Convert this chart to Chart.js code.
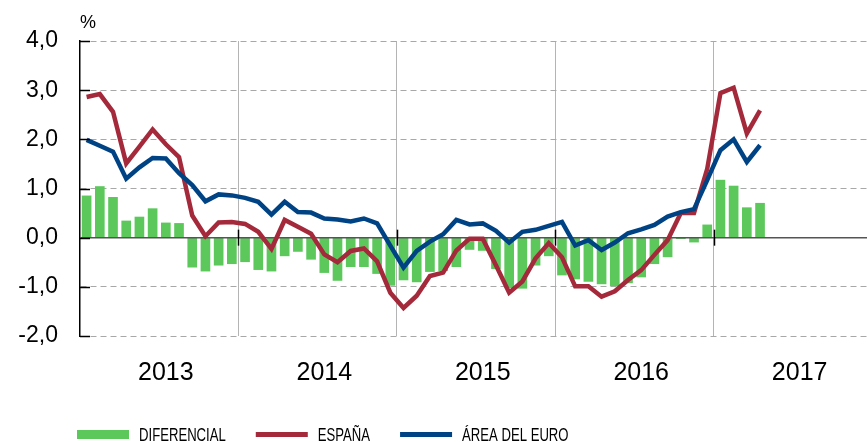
<!DOCTYPE html>
<html><head><meta charset="utf-8">
<script src="https://cdn.jsdelivr.net/npm/chart.js@4/dist/chart.umd.min.js"></script>
<style>html,body{margin:0;padding:0;background:#fff;overflow:hidden}#wrap{width:867px;height:442px;position:relative}</style>
</head><body><div id="wrap"><canvas id="c" width="867" height="442"></canvas></div>
<script>
// ---- data ----
const months = [
 '2013-01','2013-02','2013-03','2013-04','2013-05','2013-06','2013-07','2013-08','2013-09','2013-10','2013-11','2013-12',
 '2014-01','2014-02','2014-03','2014-04','2014-05','2014-06','2014-07','2014-08','2014-09','2014-10','2014-11','2014-12',
 '2015-01','2015-02','2015-03','2015-04','2015-05','2015-06','2015-07','2015-08','2015-09','2015-10','2015-11','2015-12',
 '2016-01','2016-02','2016-03','2016-04','2016-05','2016-06','2016-07','2016-08','2016-09','2016-10','2016-11','2016-12',
 '2017-01','2017-02','2017-03','2017-04'];
const years = ['2013','2014','2015','2016','2017'];
const diferencial = [0.85,1.04,0.82,0.34,0.42,0.59,0.30,0.29,-0.60,-0.68,-0.56,-0.53,
 -0.49,-0.65,-0.68,-0.37,-0.28,-0.44,-0.71,-0.87,-0.59,-0.59,-0.73,-0.97,
 -0.86,-0.90,-0.69,-0.67,-0.59,-0.24,-0.26,-0.63,-1.02,-1.03,-0.56,-0.37,
 -0.76,-0.84,-0.89,-0.94,-0.98,-0.92,-0.80,-0.53,-0.39,-0.02,-0.09,0.26,
 1.17,1.05,0.61,0.70];
const espana = [2.86,2.92,2.56,1.51,1.85,2.20,1.90,1.64,0.45,0.03,0.31,0.32,
 0.28,0.12,-0.23,0.36,0.22,0.08,-0.34,-0.50,-0.27,-0.22,-0.48,-1.12,
 -1.43,-1.18,-0.78,-0.71,-0.26,-0.02,-0.02,-0.56,-1.12,-0.89,-0.42,-0.11,
 -0.40,-0.99,-0.99,-1.20,-1.09,-0.86,-0.66,-0.35,-0.05,0.50,0.50,1.40,
 2.94,3.05,2.12,2.59];
const areaEuro = [1.99,1.87,1.75,1.20,1.43,1.62,1.61,1.31,1.07,0.74,0.88,0.86,
 0.81,0.73,0.47,0.73,0.52,0.51,0.39,0.37,0.33,0.39,0.29,-0.16,
 -0.61,-0.27,-0.08,0.07,0.36,0.27,0.29,0.14,-0.10,0.12,0.16,0.24,
 0.32,-0.16,-0.05,-0.25,-0.10,0.09,0.17,0.26,0.43,0.52,0.58,1.17,
 1.78,2.00,1.54,1.88];
const seriesLabels = ['DIFERENCIAL','ESPAÑA','ÁREA DEL EURO'];
const yTicks = [-2,-1,0,1,2,3,4];
const unitLabel = '%';

// ---- styles ----
const GREEN = '#5cc85c', RED = '#a42a3b', BLUE = '#004385';
const FONT = "'Liberation Sans', Arial, sans-serif";
const LEGEND_FONT = "'Liberation Sans', Arial, sans-serif";
const CONDENSE = 0.75;

const pts = arr => arr.map((v, i) => ({x: i + 0.5, y: v}));
const yearBounds = years.slice(1).map((y, k) => (k + 1) * 12);
const yearMids = years.map((y, k) => k * 12 + 6.5);
const xTickVals = [...yearBounds, ...yearMids].sort((a, b) => a - b);

const extras = {
  id: 'extras',
  afterDatasetDraw(chart, args) {
    if (args.index !== 0) return;
    const {ctx, chartArea: ca, scales: {x, y}} = chart;
    const y0 = y.getPixelForValue(0);
    ctx.save();
    ctx.strokeStyle = '#555';
    ctx.lineWidth = 1.5;
    ctx.beginPath(); ctx.moveTo(ca.left, y0); ctx.lineTo(ca.right, y0); ctx.stroke();
    ctx.strokeStyle = '#000';
    ctx.lineWidth = 1.5;
    yearBounds.forEach(b => {
      const px = Math.round(x.getPixelForValue(b)) + 0.5;
      ctx.beginPath(); ctx.moveTo(px, y0 - 8); ctx.lineTo(px, y0 + 8); ctx.stroke();
    });
    ctx.restore();
  },
  afterDraw(chart) {
    const {ctx, chartArea: ca, scales: {y}} = chart;
    ctx.save();
    // inner tick marks on y axis
    ctx.strokeStyle = '#000'; ctx.lineWidth = 1.5;
    yTicks.forEach(t => {
      const py = Math.round(y.getPixelForValue(t)) + 0.5;
      ctx.beginPath(); ctx.moveTo(ca.left, py); ctx.lineTo(ca.left + 10, py); ctx.stroke();
    });
    // unit label
    ctx.fillStyle = '#000';
    ctx.font = '18px ' + FONT;
    ctx.textBaseline = 'alphabetic'; ctx.textAlign = 'left';
    ctx.fillText(unitLabel, ca.left, 28);
    // legend
    ctx.font = '17.5px ' + LEGEND_FONT;
    let lx = 77;
    const colors = [GREEN, RED, BLUE];
    seriesLabels.forEach((lab, i) => {
      ctx.fillStyle = colors[i];
      if (i === 0) ctx.fillRect(lx, 430, 52, 9);
      else ctx.fillRect(lx, 432, 52, 5);
      lx += 62;
      ctx.fillStyle = '#000';
      const w = ctx.measureText(lab).width * CONDENSE;
      ctx.save();
      ctx.translate(lx, 441);
      ctx.scale(CONDENSE, 1);
      ctx.fillText(lab, 0, 0);
      ctx.restore();
      lx += w + 30;
    });
    ctx.restore();
  }
};

new Chart(document.getElementById('c'), {
  type: 'bar',
  data: {
    labels: months,
    datasets: [
      {type: 'bar', label: seriesLabels[0], data: pts(diferencial), backgroundColor: GREEN, barThickness: 9, order: 3},
      {type: 'line', label: seriesLabels[1], data: pts(espana), borderColor: RED, backgroundColor: RED, borderWidth: 4.5, pointRadius: 0, tension: 0, borderJoinStyle: 'miter', order: 2},
      {type: 'line', label: seriesLabels[2], data: pts(areaEuro), borderColor: BLUE, backgroundColor: BLUE, borderWidth: 4.5, pointRadius: 0, tension: 0, borderJoinStyle: 'miter', order: 1}
    ]
  },
  options: {
    responsive: false, animation: false,
    layout: {padding: {top: 41, left: 0, right: 0, bottom: 0}},
    plugins: {legend: {display: false}, tooltip: {enabled: false}},
    scales: {
      x: {
        type: 'linear', min: 0, max: 59.6, offset: false,
        afterBuildTicks: s => { s.ticks = xTickVals.map(v => ({value: v})); },
        afterFit: s => { s.height = 106; },
        grid: {offset: false, drawTicks: false, lineWidth: 1,
          color: c => (c.tick && yearBounds.includes(c.tick.value)) ? '#b4b4b4' : 'rgba(0,0,0,0)'},
        border: {display: false},
        ticks: {autoSkip: false, maxRotation: 0, padding: 22, color: '#000', font: {family: FONT, size: 25},
          callback: v => { const k = yearMids.indexOf(v); return k >= 0 ? years[k] : ''; }}
      },
      y: {
        min: -2, max: 4,
        afterBuildTicks: s => { s.ticks = yTicks.map(v => ({value: v})); },
        afterFit: s => { s.width = 80; },
        grid: {color: '#a8a8a8', lineWidth: 1, drawTicks: false},
        border: {display: true, color: '#000', width: 1.5, dash: [6, 4]},
        ticks: {padding: 22, color: '#000', font: {family: FONT, size: 23},
          callback: v => v.toFixed(1).replace('.', ',')}
      }
    }
  },
  plugins: [extras]
});
</script></body></html>
